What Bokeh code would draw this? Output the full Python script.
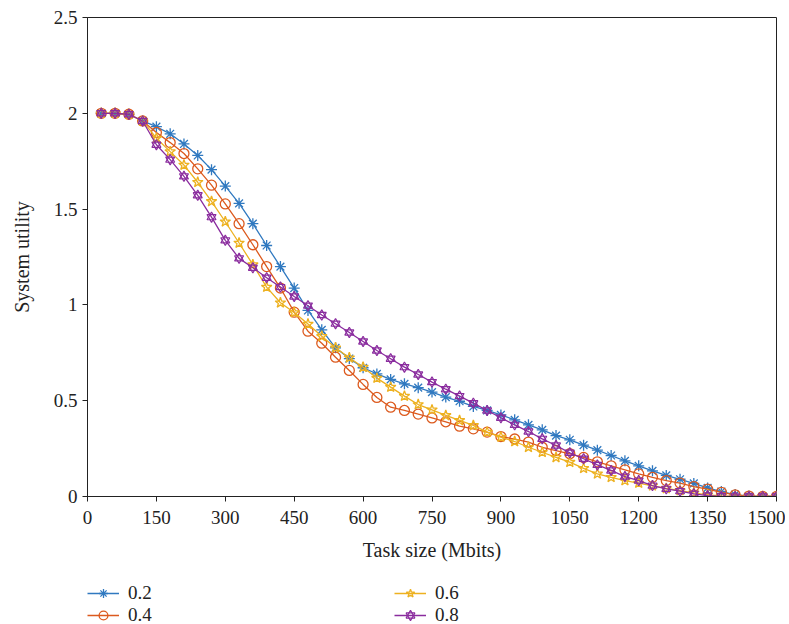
from bokeh.plotting import figure
from bokeh.layouts import column
from bokeh.models import Legend, LegendItem, FixedTicker, Range1d
from bokeh.embed import file_html
from bokeh.resources import INLINE

task_size = [30, 60, 90, 120, 150, 180, 210, 240, 270, 300,
             330, 360, 390, 420, 450, 480, 510, 540, 570, 600,
             630, 660, 690, 720, 750, 780, 810, 840, 870, 900,
             930, 960, 990, 1020, 1050, 1080, 1110, 1140, 1170, 1200,
             1230, 1260, 1290, 1320, 1350, 1380, 1410, 1440, 1470, 1500]

u_02 = [2.0, 2.0, 1.995, 1.96, 1.93, 1.893, 1.84, 1.78, 1.706, 1.62,
        1.53, 1.424, 1.31, 1.20, 1.088, 0.971, 0.87, 0.776, 0.72, 0.672,
        0.64, 0.611, 0.588, 0.568, 0.545, 0.519, 0.497, 0.47, 0.449, 0.426,
        0.40, 0.374, 0.348, 0.318, 0.296, 0.268, 0.242, 0.214, 0.186, 0.16,
        0.134, 0.11, 0.09, 0.068, 0.045, 0.026, 0.01, 0.002, 0.0, 0.0]

u_04 = [2.0, 2.0, 1.995, 1.96, 1.90, 1.847, 1.79, 1.71, 1.625, 1.527,
        1.424, 1.314, 1.20, 1.088, 0.962, 0.863, 0.80, 0.727, 0.658, 0.585,
        0.517, 0.466, 0.449, 0.43, 0.41, 0.39, 0.367, 0.353, 0.336, 0.313,
        0.30, 0.284, 0.257, 0.24, 0.223, 0.204, 0.181, 0.16, 0.139, 0.118,
        0.10, 0.083, 0.07, 0.052, 0.038, 0.022, 0.008, 0.002, 0.0, 0.0]

u_06 = [2.0, 2.0, 1.995, 1.96, 1.87, 1.80, 1.73, 1.64, 1.54, 1.434,
        1.323, 1.21, 1.093, 1.011, 0.96, 0.90, 0.836, 0.776, 0.724, 0.675,
        0.618, 0.571, 0.524, 0.48, 0.452, 0.423, 0.397, 0.371, 0.336, 0.31,
        0.287, 0.257, 0.231, 0.204, 0.179, 0.147, 0.118, 0.10, 0.083, 0.07,
        0.056, 0.042, 0.031, 0.019, 0.009, 0.003, 0.001, 0.0, 0.0, 0.0]

u_08 = [2.0, 2.0, 1.995, 1.96, 1.836, 1.758, 1.671, 1.572, 1.458, 1.337,
        1.243, 1.194, 1.142, 1.093, 1.044, 0.996, 0.947, 0.902, 0.856, 0.809,
        0.762, 0.719, 0.675, 0.637, 0.597, 0.56, 0.524, 0.487, 0.449, 0.411,
        0.374, 0.339, 0.301, 0.266, 0.228, 0.197, 0.165, 0.136, 0.104, 0.083,
        0.057, 0.04, 0.028, 0.014, 0.005, 0.001, 0.0, 0.0, 0.0, 0.0]

labels = ["0.2", "0.4", "0.6", "0.8"]
x_ticks = [0, 150, 300, 450, 600, 750, 900, 1050, 1200, 1350, 1500]
y_ticks = [0, 0.5, 1, 1.5, 2, 2.5]
y_tick_labels = ["0", "0.5", "1", "1.5", "2", "2.5"]

BLUE = "#3079c0"
ORANGE = "#dc5a1e"
YELLOW = "#edb120"
PURPLE = "#8a2c9e"
FONT = "Liberation Serif"
INK = "#222222"

p = figure(frame_width=689, frame_height=479, output_backend="svg", toolbar_location=None,
           x_range=Range1d(0, 1500), y_range=Range1d(0, 2.5),
           min_border_left=87, min_border_right=9, min_border_top=17,
           min_border_bottom=70)

p.grid.visible = False
p.outline_line_color = INK
p.outline_line_width = 1

for ax in (p.xaxis[0], p.yaxis[0]):
    ax.axis_line_color = INK
    ax.major_tick_line_color = INK
    ax.major_tick_out = 5
    ax.major_tick_in = 0
    ax.minor_tick_line_color = None
    ax.major_label_text_font = FONT
    ax.major_label_text_font_size = "19px"
    ax.major_label_text_color = INK
    ax.axis_label_text_font = FONT
    ax.axis_label_text_font_size = "20px"
    ax.axis_label_text_font_style = "normal"
    ax.axis_label_text_color = INK

p.xaxis.ticker = FixedTicker(ticks=x_ticks)
p.yaxis.ticker = FixedTicker(ticks=y_ticks)
p.yaxis.major_label_overrides = {t: s for t, s in zip(y_ticks, y_tick_labels)}
p.xaxis.axis_label = "Task size (Mbits)"
p.yaxis.axis_label = "System utility"
p.xaxis.major_label_standoff = 9
p.xaxis.axis_label_standoff = 12
p.yaxis.major_label_standoff = 5
p.yaxis.axis_label_standoff = 18

lw = 1.3
styles = [
    dict(color=BLUE, marker="asterisk", size=11),
    dict(color=ORANGE, marker="circle", size=10),
    dict(color=YELLOW, marker="star", size=11),
    dict(color=PURPLE, marker="hexagram", size=9),
]
series = [u_02, u_04, u_06, u_08]


def draw(fig, xs, ys, st):
    rs = [fig.line(xs, ys, line_color=st["color"], line_width=lw)]
    if st["marker"] == "hexagram":
        for mk in ("triangle", "inverted_triangle"):
            rs.append(fig.scatter(xs, ys, marker=mk, size=st["size"], line_color=st["color"],
                                  fill_color=None, line_width=1.2))
    else:
        rs.append(fig.scatter(xs, ys, marker=st["marker"], size=st["size"],
                              line_color=st["color"], fill_color=None, line_width=1.3))
    return rs


for ys, st in zip(series, styles):
    draw(p, task_size, ys, st)

# legend strip below the chart (its own view range shows none of the data,
# the renderers only supply the legend glyph styles)
q = figure(width=785, height=58, output_backend="svg", toolbar_location=None,
           x_axis_type=None, y_axis_type=None, min_border=0,
           x_range=Range1d(-3000, -2000), y_range=Range1d(-3000, -2000))
q.grid.visible = False
q.outline_line_color = None

legend_renderers = [draw(q, task_size, ys, st) for ys, st in zip(series, styles)]


def make_legend(items, loc):
    leg = Legend(items=items, location=loc, orientation="horizontal")
    leg.padding = 0
    leg.margin = 0
    leg.spacing = 0
    leg.glyph_width = 32
    leg.glyph_height = 22
    leg.label_height = 22
    leg.label_width = 266
    leg.label_standoff = 9
    leg.label_text_font = FONT
    leg.label_text_font_size = "19px"
    leg.label_text_color = INK
    leg.border_line_color = None
    leg.background_fill_alpha = 0
    return leg


leg_a = make_legend([LegendItem(label=labels[0], renderers=legend_renderers[0]),
                     LegendItem(label=labels[2], renderers=legend_renderers[2])], (0, 20))
leg_b = make_legend([LegendItem(label=labels[1], renderers=legend_renderers[1]),
                     LegendItem(label=labels[3], renderers=legend_renderers[3])], (0, -2))
q.add_layout(leg_a)
q.add_layout(leg_b)

layout = column(p, q, spacing=0)
open("out.html", "w").write(file_html(layout, INLINE))
